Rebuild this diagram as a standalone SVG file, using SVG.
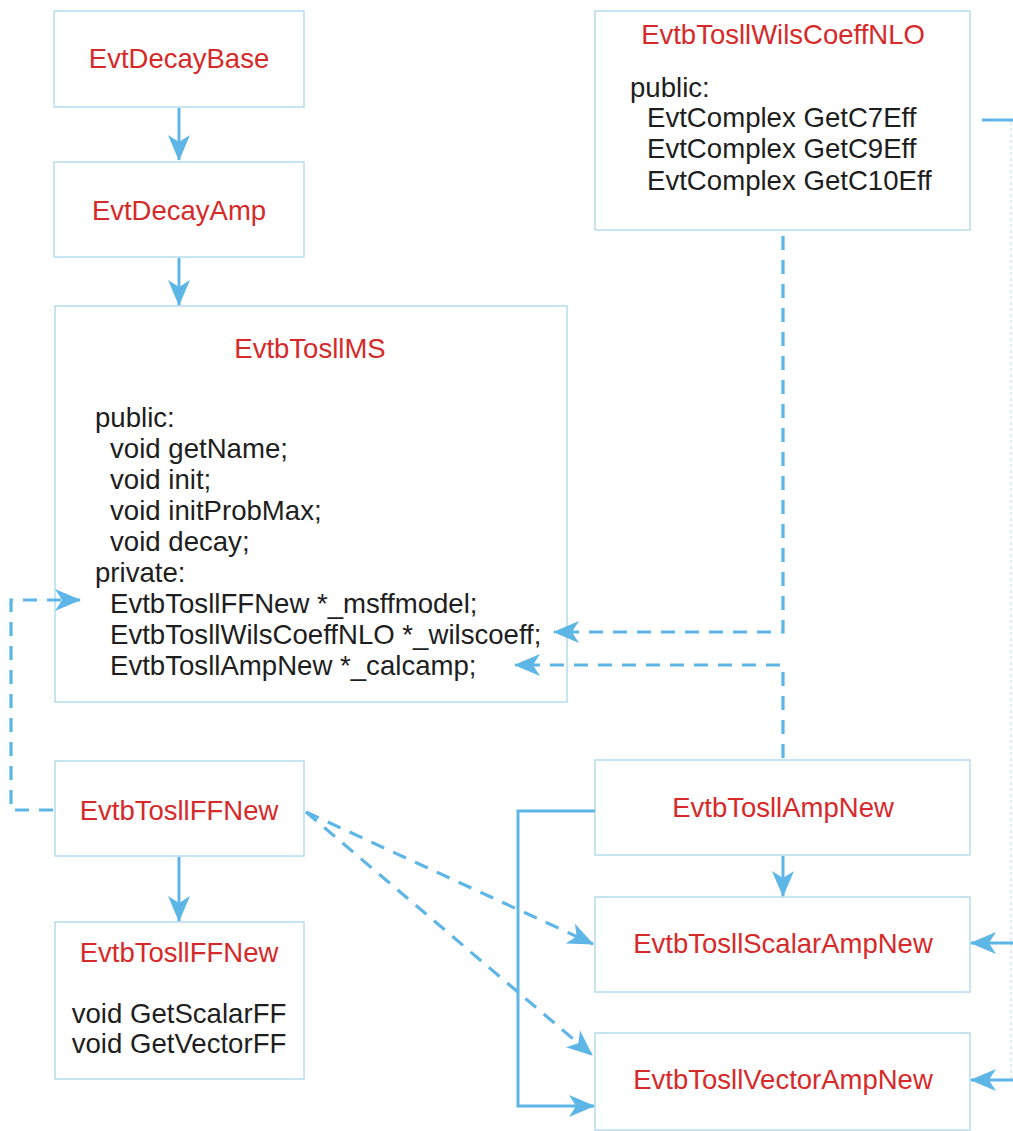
<svg xmlns="http://www.w3.org/2000/svg" width="1013" height="1131" viewBox="0 0 1013 1131">
<style>
.box{fill:#fff;stroke:#b5dcee;stroke-width:1.5}
.t{font-family:"Liberation Sans",Arial,sans-serif;font-size:27.5px;fill:#d62a2a}
.b{font-family:"Liberation Sans",Arial,sans-serif;font-size:27.6px;fill:#1e1e1e}
.c{text-anchor:middle}
.ln{fill:none;stroke:#5db6e6;stroke-width:3}
.d{stroke-dasharray:14 10;stroke-width:3.2}
</style>
<defs>
<marker id="ah" viewBox="0 0 26 22" refX="25" refY="11" markerWidth="26" markerHeight="22" markerUnits="userSpaceOnUse" orient="auto">
<path d="M0,0 L26,11 L0,22 L7,11 z" fill="#5db6e6"/>
</marker>
</defs>
<rect width="1013" height="1131" fill="#fff"/>
<g id="EvtDecayBase">
<rect class="box" x="54" y="11" width="250" height="96"/>
<text class="t c" x="179" y="68">EvtDecayBase</text>
</g>
<g id="EvtDecayAmp">
<rect class="box" x="54" y="162" width="250" height="95"/>
<text class="t c" x="179" y="220">EvtDecayAmp</text>
</g>
<g id="EvtbTosllMS">
<rect class="box" x="55" y="306" width="512" height="396"/>
<text class="t c" x="310" y="358">EvtbTosllMS</text>
<text class="b" x="95" y="427">public:</text>
<text class="b" x="110" y="458">void getName;</text>
<text class="b" x="110" y="489">void init;</text>
<text class="b" x="110" y="520">void initProbMax;</text>
<text class="b" x="110" y="551">void decay;</text>
<text class="b" x="95" y="582">private:</text>
<text class="b" x="110" y="613">EvtbTosllFFNew *_msffmodel;</text>
<text class="b" x="110" y="644">EvtbTosllWilsCoeffNLO *_wilscoeff;</text>
<text class="b" x="110" y="675">EvtbTosllAmpNew *_calcamp;</text>
</g>
<g id="EvtbTosllWilsCoeffNLO">
<rect class="box" x="595" y="11" width="375" height="219"/>
<text class="t c" x="783" y="44">EvtbTosllWilsCoeffNLO</text>
<text class="b" x="630" y="97">public:</text>
<text class="b" x="647" y="127">EvtComplex GetC7Eff</text>
<text class="b" x="647" y="158">EvtComplex GetC9Eff</text>
<text class="b" x="647" y="190">EvtComplex GetC10Eff</text>
</g>
<g id="EvtbTosllFFNew">
<rect class="box" x="55" y="761" width="249" height="95"/>
<text class="t c" x="179" y="820">EvtbTosllFFNew</text>
</g>
<g id="EvtbTosllFFNew2">
<rect class="box" x="55" y="922" width="249" height="157"/>
<text class="t c" x="179" y="962">EvtbTosllFFNew</text>
<text class="b c" x="179" y="1023">void GetScalarFF</text>
<text class="b c" x="179" y="1053">void GetVectorFF</text>
</g>
<g id="EvtbTosllAmpNew">
<rect class="box" x="595" y="760" width="375" height="95"/>
<text class="t c" x="783" y="817">EvtbTosllAmpNew</text>
</g>
<g id="EvtbTosllScalarAmpNew">
<rect class="box" x="595" y="897" width="375" height="95"/>
<text class="t c" x="783" y="953">EvtbTosllScalarAmpNew</text>
</g>
<g id="EvtbTosllVectorAmpNew">
<rect class="box" x="595" y="1033" width="375" height="97"/>
<text class="t c" x="783" y="1089">EvtbTosllVectorAmpNew</text>
</g>
<g id="connectors">
<path class="ln" d="M179,108 V160" marker-end="url(#ah)"/>
<path class="ln" d="M179,258 V305" marker-end="url(#ah)"/>
<path class="ln d" d="M783,236 V632 H554" marker-end="url(#ah)"/>
<path class="ln d" d="M783,758 V665 H515" marker-end="url(#ah)"/>
<path class="ln d" d="M53,810 H11 V600 H80" marker-end="url(#ah)"/>
<path class="ln" d="M179,857 V921" marker-end="url(#ah)"/>
<path class="ln d" d="M306,812 L593,944" marker-end="url(#ah)"/>
<path class="ln d" d="M306,812 L592,1055" marker-end="url(#ah)"/>
<path class="ln" d="M595,811 H518 V1106 H594" marker-end="url(#ah)"/>
<path class="ln" d="M783,856 V896" marker-end="url(#ah)"/>
<path class="ln" d="M982,120 H1013"/>
<path fill="none" stroke="#cfe9f6" stroke-width="1.5" stroke-dasharray="3 3" d="M1011,122 V1080"/>
<path class="ln" d="M1013,943 H971" marker-end="url(#ah)"/>
<path class="ln" d="M1013,1080 H971" marker-end="url(#ah)"/>
</g>
</svg>
